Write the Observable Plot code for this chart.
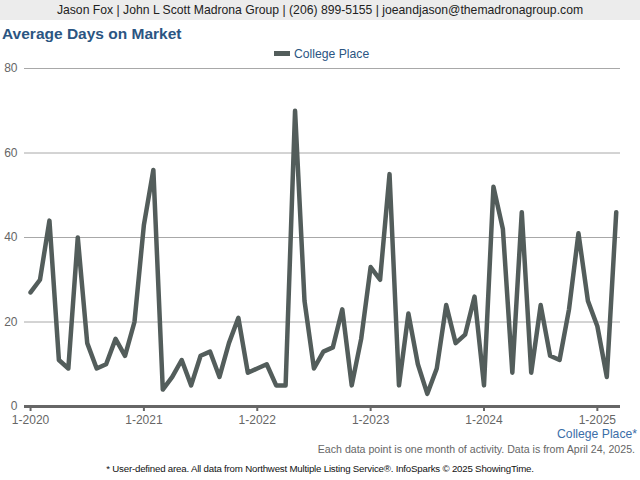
<!DOCTYPE html>
<html>
<head>
<meta charset="utf-8">
<script src="https://cdn.jsdelivr.net/npm/d3@7"></script>
<script src="https://cdn.jsdelivr.net/npm/@observablehq/plot@0.6"></script>
<style>
  html, body { margin: 0; padding: 0; background: #fff; }
  #wrap { position: relative; width: 640px; height: 480px; overflow: hidden; font-family: "Liberation Sans", Arial, sans-serif; }
  .abs { position: absolute; white-space: nowrap; }
  #header { left: 0; top: 0; width: 640px; height: 20px; background: #ececec; color: #222; font-size: 12.2px; line-height: 21px; text-align: center; }
  #title { left: 2px; top: 25px; color: #2b5582; font-size: 15.5px; font-weight: bold; }
  #legend { left: 274px; top: 46px; color: #2b5582; font-size: 12.2px; line-height: 16px; }
  #legend .sw { display: inline-block; width: 16px; height: 5px; background: #535d5b; vertical-align: middle; margin-right: 4px; position: relative; top: -1px; }
  #area { right: 3px; top: 427px; color: #3b6ea8; font-size: 12.2px; }
  #note { right: 5px; top: 443px; color: #666; font-size: 10.6px; }
  #footer { left: 0; width: 640px; top: 463px; text-align: center; color: #111; font-size: 9.7px; letter-spacing: -0.2px; }
  svg { position: absolute; left: 0; top: 0; }
</style>
</head>
<body>
<div id="wrap">
  <div id="header" class="abs">Jason Fox | John L Scott Madrona Group | (206) 899-5155 | joeandjason@themadronagroup.com</div>
  <div id="title" class="abs">Average Days on Market</div>
  <div id="legend" class="abs"><span class="sw"></span>College Place</div>
  <div id="area" class="abs">College Place*</div>
  <div id="note" class="abs">Each data point is one month of activity. Data is from April 24, 2025.</div>
  <div id="footer" class="abs">* User-defined area. All data from Northwest Multiple Listing Service®. InfoSparks © 2025 ShowingTime.</div>
</div>
<script>
// Monthly average days on market, Jan 2020 .. Mar 2025
const values = [
  27, 30, 44, 11, 9, 40, 15, 9, 10, 16, 12, 20,
  43, 56, 4, 7, 11, 5, 12, 13, 7, 15, 21, 8,
  9, 10, 5, 5, 70, 25, 9, 13, 14, 23, 5, 16,
  33, 30, 55, 5, 22, 10, 3, 9, 24, 15, 17, 26,
  5, 52, 42, 8, 46, 8, 24, 12, 11, 23, 41, 25,
  19, 7, 46
];
const tickLabels = ["1-2020", "1-2021", "1-2022", "1-2023", "1-2024", "1-2025"];
const yTicks = [0, 20, 40, 60, 80];
const seriesName = "College Place";

const data = values.map((v, i) => ({i, v, name: seriesName}));
const tickPos = tickLabels.map((_, k) => k * 12);

const chart = Plot.plot({
  width: 640,
  height: 440,
  marginLeft: 24,
  marginRight: 20,
  marginTop: 68,
  marginBottom: 34,
  style: {fontFamily: "'Liberation Sans', Arial, sans-serif", fontSize: "12px", color: "#666", background: "transparent"},
  x: {domain: [-0.64, 62.45], axis: null},
  y: {domain: [0, 80], axis: null},
  marks: [
    Plot.gridY(yTicks.filter(d => d > 0), {stroke: "#a8a8a8", strokeOpacity: 1, strokeWidth: 1}),
    Plot.axisY(yTicks, {tickSize: 0, tickPadding: 7, fill: "#666", fontSize: 12, label: null}),
    Plot.ruleY([0], {stroke: "#666", strokeWidth: 3}),
    Plot.axisX(tickPos, {tickSize: 5, stroke: "#666", strokeWidth: 2, tickPadding: 4, fill: "#666", fontSize: 12, label: null, tickFormat: (d) => tickLabels[d / 12]}),
    Plot.line(data, {x: "i", y: "v", stroke: "#535d5b", strokeWidth: 4.5, strokeLinejoin: "round"})
  ]
});
document.getElementById("wrap").appendChild(chart);
</script>
</body>
</html>
